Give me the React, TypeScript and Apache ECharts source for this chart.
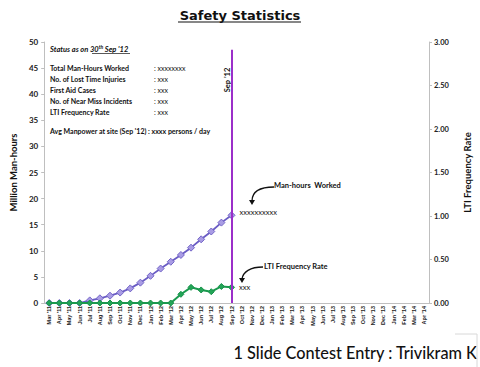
import React, { useEffect, useRef } from "react";
import * as echarts from "echarts";

const months = [
  "Mar '11", "Apr '11", "May '11", "Jun '11", "Jul '11", "Aug '11", "Sep '11", "Oct '11", "Nov '11", "Dec '11",
  "Jan '12", "Feb '12", "Mar '12", "Apr '12", "May '12", "Jun '12", "Jul '12", "Aug '12", "Sep '12", "Oct '12",
  "Nov '12", "Dec '12", "Jan '13", "Feb '13", "Mar '13", "Apr '13", "May '13", "Jun '13", "Jul '13", "Aug '13",
  "Sep '13", "Oct '13", "Nov '13", "Dec '13", "Jan '14", "Feb '14", "Mar '14", "Apr '14",
];

const manHours = [0, 0, 0, 0, 0.5, 0.9, 1.4, 2.0, 2.8, 3.9, 5.2, 6.6, 7.9, 9.2, 10.6, 12.2, 13.7, 15.4, 16.8];
const ltiRate = [0, 0, 0, 0, 0, 0, 0, 0, 0, 0, 0, 0, 0, 0.10, 0.18, 0.15, 0.13, 0.19, 0.18];

const statusMonth = "Sep '12";
const manHoursEndLabel = "xxxxxxxxxx";
const ltiEndLabel = "xxx";

const infoLabels = [
  "Total Man-Hours Worked",
  "No. of Lost Time Injuries",
  "First Aid Cases",
  "No. of Near Miss Incidents",
  "LTI Frequency Rate",
];
const infoValues = [": xxxxxxxx", ": xxx", ": xxx", ": xxx", ": xxx"];
const avgManpower = "Avg Manpower at site (Sep '12) : xxxx persons / day";

const FONT = "Lato, 'Open Sans', sans-serif";

export default function App() {
  const ref = useRef<HTMLDivElement>(null);
  useEffect(() => {
    document.body.style.margin = "0";
    const chart = echarts.init(ref.current!, null, { renderer: "svg" });
    const lastIdx = manHours.length - 1;
    const mhData = manHours.map((v, i) =>
      i === lastIdx
        ? { value: v, label: { show: true, formatter: manHoursEndLabel } }
        : v
    );
    const ltiData = ltiRate.map((v, i) =>
      i === lastIdx ? { value: v, label: { show: true, formatter: ltiEndLabel } } : v
    );

    const infoGraphics: any[] = [];
    infoLabels.forEach((t, i) => {
      infoGraphics.push({
        type: "text",
        x: 50,
        y: 68 + i * 11,
        style: { text: t, fill: "#111", fontSize: 7, fontWeight: "bold", fontFamily: FONT, textVerticalAlign: "middle" },
      });
      infoGraphics.push({
        type: "text",
        x: 154,
        y: 68 + i * 11,
        style: { text: infoValues[i], fill: "#111", fontSize: 7, fontFamily: FONT, textVerticalAlign: "middle" },
      });
    });

    const option: any = {
      animation: false,
      backgroundColor: "#ffffff",
      title: {
        text: "Safety Statistics",
        left: "center",
        top: 4,
        textStyle: { fontFamily: "DejaVu Sans", fontWeight: "bold", fontSize: 13, color: "#111" },
      },
      grid: { left: 44, right: 47, top: 42, bottom: 64, containLabel: false },
      xAxis: {
        type: "category",
        data: months,
        boundaryGap: true,
        axisLine: { lineStyle: { color: "#bfbfbf" } },
        axisTick: { show: false },
        axisLabel: {
          rotate: 90,
          interval: 0,
          fontSize: 5.5,
          fontWeight: "bold",
          color: "#222",
          margin: 3,
          fontFamily: "Liberation Sans, Arial, sans-serif",
        },
      },
      yAxis: [
        {
          type: "value",
          min: 0,
          max: 50,
          interval: 5,
          name: "Million Man-hours",
          nameLocation: "middle",
          nameGap: 25,
          nameRotate: 90,
          nameTextStyle: { fontFamily: FONT, fontWeight: "bold", fontSize: 9.5, color: "#111" },
          axisLine: { show: true, lineStyle: { color: "#bfbfbf" } },
          axisTick: { show: true, length: 3, lineStyle: { color: "#bfbfbf" } },
          splitLine: { show: false },
          axisLabel: { fontSize: 8, fontWeight: "bold", color: "#222", fontFamily: FONT, margin: 6 },
        },
        {
          type: "value",
          min: 0,
          max: 3,
          interval: 0.5,
          position: "right",
          name: "LTI Frequency Rate",
          nameLocation: "middle",
          nameGap: 33,
          nameRotate: 90,
          nameTextStyle: { fontFamily: FONT, fontWeight: "bold", fontSize: 9.5, color: "#111" },
          axisLine: { show: true, lineStyle: { color: "#bfbfbf" } },
          axisTick: { show: true, length: 3, lineStyle: { color: "#bfbfbf" } },
          splitLine: { show: false },
          axisLabel: {
            fontSize: 7.5,
            fontWeight: "bold",
            color: "#222",
            fontFamily: FONT,
            margin: 5,
            formatter: (v: number) => v.toFixed(2),
          },
        },
      ],
      series: [
        {
          name: "Man-hours Worked",
          type: "line",
          yAxisIndex: 0,
          data: mhData,
          symbol: "diamond",
          symbolSize: 7,
          lineStyle: { color: "#6a5cc4", width: 1.8 },
          itemStyle: { color: "#a99ce4", borderColor: "#7466c8", borderWidth: 1 },
          label: {
            show: false,
            position: "right",
            offset: [-1, -3],
            fontSize: 7.5,
            color: "#111",
            fontFamily: FONT,
          },
          markLine: {
            silent: true,
            symbol: "none",
            label: { show: false },
            lineStyle: { color: "#9b2fc9", width: 2, type: "solid" },
            data: [
              [
                { coord: [statusMonth, 48.5] },
                { coord: [statusMonth, 0] },
              ],
            ],
          },
          z: 3,
        },
        {
          name: "LTI Frequency Rate",
          type: "line",
          yAxisIndex: 1,
          data: ltiData,
          symbol: "diamond",
          symbolSize: 6,
          lineStyle: { color: "#1a9a4e", width: 2 },
          itemStyle: { color: "#23a457", borderColor: "#17924a", borderWidth: 1 },
          label: {
            show: false,
            position: "right",
            offset: [-1, 0],
            fontSize: 7.5,
            color: "#111",
            fontFamily: FONT,
          },
          z: 4,
        },
      ],
      graphic: [
        // title underline
        { type: "line", shape: { x1: 178, y1: 22, x2: 301, y2: 22 }, style: { stroke: "#111", lineWidth: 1.2 } },
        {
          type: "text",
          x: 50,
          y: 49,
          style: {
            text: "Status as on {u|30}{sup|th}{u| " + statusMonth + "}",
            fill: "#111",
            fontSize: 7.5,
            fontWeight: "bold",
            fontStyle: "italic",
            fontFamily: FONT,
            textVerticalAlign: "middle",
            rich: {
              u: { fontSize: 7.5, fontWeight: "bold", fontStyle: "italic", fontFamily: FONT, fill: "#111" },
              sup: { fontSize: 5, fontWeight: "bold", fontStyle: "italic", fontFamily: FONT, fill: "#111", verticalAlign: "top", padding: [0, 0, 4, 0] },
            },
          },
        },
        { type: "line", shape: { x1: 92, y1: 53.5, x2: 130, y2: 53.5 }, style: { stroke: "#111", lineWidth: 0.7 } },
        ...infoGraphics,
        {
          type: "text",
          x: 50,
          y: 131,
          style: { text: avgManpower, fill: "#111", fontSize: 7, fontWeight: "bold", fontFamily: FONT, textVerticalAlign: "middle" },
        },
        {
          type: "text",
          x: 227,
          y: 80,
          rotation: Math.PI / 2,
          style: {
            text: statusMonth,
            fill: "#111",
            fontSize: 7.5,
            fontWeight: "bold",
            fontFamily: FONT,
            textAlign: "center",
            textVerticalAlign: "middle",
          },
        },
        // annotation: Man-hours Worked
        {
          type: "text",
          x: 274,
          y: 185,
          style: { text: "Man-hours  Worked", fill: "#111", fontSize: 7.5, fontWeight: "bold", fontFamily: FONT, textVerticalAlign: "middle" },
        },
        {
          type: "bezierCurve",
          shape: { x1: 274, y1: 187, cpx1: 258, cpy1: 187, cpx2: 252, cpy2: 193, x2: 252, y2: 201 },
          style: { stroke: "#111", lineWidth: 1.3, fill: "none" },
        },
        { type: "polygon", shape: { points: [[249, 200], [255, 200], [252, 205]] }, style: { fill: "#111" } },
        // annotation: LTI Frequency Rate
        {
          type: "text",
          x: 264,
          y: 266,
          style: { text: "LTI Frequency Rate", fill: "#111", fontSize: 7.5, fontWeight: "bold", fontFamily: FONT, textVerticalAlign: "middle" },
        },
        {
          type: "bezierCurve",
          shape: { x1: 263, y1: 267, cpx1: 250, cpy1: 267, cpx2: 243, cpy2: 272, x2: 242, y2: 279 },
          style: { stroke: "#111", lineWidth: 1.3, fill: "none" },
        },
        { type: "polygon", shape: { points: [[239, 278], [245, 278], [242, 283]] }, style: { fill: "#111" } },
        // footer
        {
          type: "text",
          x: 477,
          y: 352,
          style: {
            text: "1 Slide Contest Entry : Trivikram K",
            fill: "#111",
            fontSize: 16.3,
            fontWeight: 500,
            fontFamily: FONT,
            textAlign: "right",
            textVerticalAlign: "middle",
          },
        },
        {
          type: "polyline",
          shape: { points: [[455, 334], [477, 334], [477, 367]] },
          style: { stroke: "#d8d8d8", lineWidth: 1, fill: "none" },
        },
      ],
    };
    chart.setOption(option);
    return () => chart.dispose();
  }, []);
  return <div ref={ref} style={{ width: 480, height: 367 }} />;
}
